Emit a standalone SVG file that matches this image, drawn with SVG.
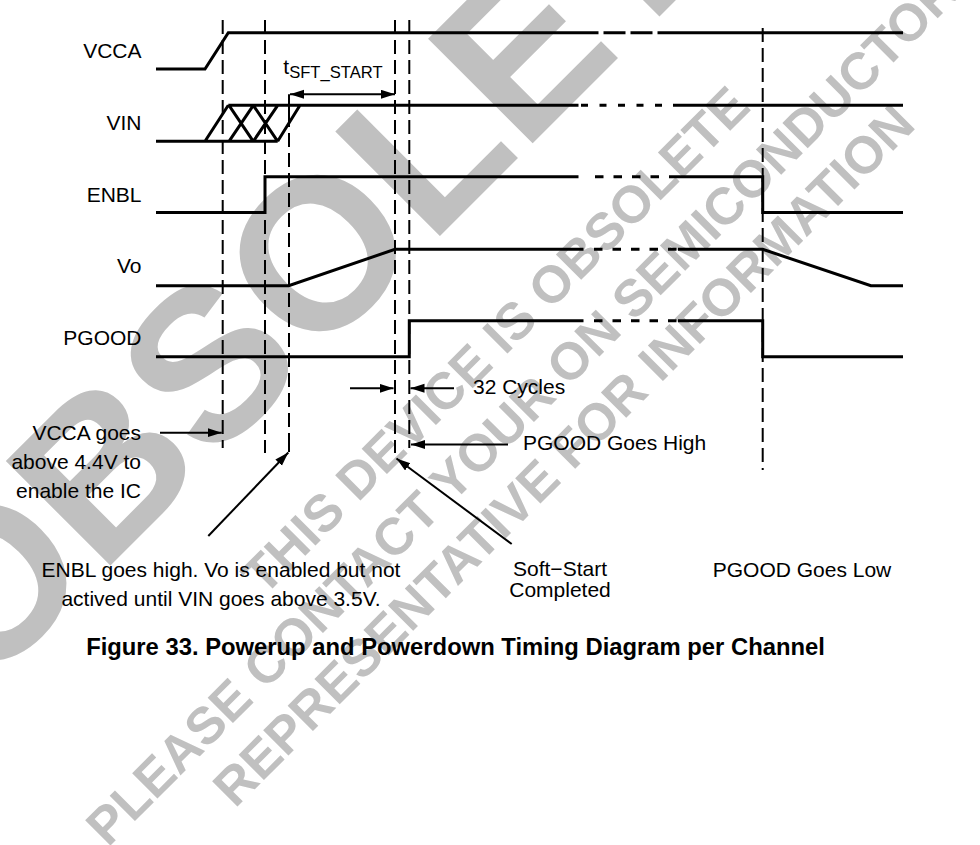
<svg xmlns="http://www.w3.org/2000/svg" width="980" height="845" viewBox="0 0 980 845">
<defs>
<marker id="ah" markerUnits="userSpaceOnUse" markerWidth="15" markerHeight="10" refX="14" refY="4.5" orient="auto-start-reverse"><path d="M0,0 L14,4.5 L0,9 z" fill="#000"/></marker>
<style>
.sig{fill:none;stroke:#000;stroke-width:3;stroke-linejoin:miter}
.brk{fill:none;stroke:#000;stroke-width:3;stroke-dasharray:8.5 10}
.vd{fill:none;stroke:#000;stroke-width:2;stroke-dasharray:14 6}
.arr{fill:none;stroke:#000;stroke-width:2}
.lbl{font-family:"Liberation Sans",Arial,Helvetica,sans-serif;font-size:21px;fill:#000}
.ttl{font-family:"Liberation Sans",Arial,Helvetica,sans-serif;font-size:23.8px;font-weight:bold;fill:#000}
.sub{font-size:16.6px}
.wm{font-family:"Liberation Sans",Arial,Helvetica,sans-serif;font-weight:bold;fill:#c0c0c0}
</style>
</defs>
<rect width="980" height="845" fill="#fff"/>
<g id="watermark">
<text class="wm" font-size="215" transform="translate(-18,694) rotate(-45)">OBSOLETE</text>
<text class="wm" font-size="52" transform="translate(264,597) rotate(-45)">THIS DEVICE IS OBSOLETE</text>
<text class="wm" font-size="52" transform="translate(108,848) rotate(-45)">PLEASE CONTACT YOUR ON SEMICONDUCTOR</text>
<text class="wm" font-size="52" transform="translate(235,809) rotate(-45)">REPRESENTATIVE FOR INFORMATION</text>
</g>
<g id="VCCA">
<text class="lbl" x="141.5" y="58.3" text-anchor="end">VCCA</text>
<path class="sig" d="M156,69 H205 L228.3,32.7 H598.5 M603.5,32.7 H625.5 M630.5,32.7 H652.5 M657.5,32.7 H903"/>
</g>
<g id="VIN">
<text class="lbl" x="141.5" y="130" text-anchor="end">VIN</text>
<path class="sig" d="M156,141.3 H277.7 M228.3,105.3 H578.5 M673,105.3 H903 M205,141.3 L228.3,105.3 M229,141.3 L253.3,105.3 M229,105.3 L253.3,141.3 M253.3,141.3 L277.7,105.3 M253.3,105.3 L277.7,141.3 M277.7,141.3 L300,105.3"/>
<path class="brk" d="M581,105.3 H668" style="stroke-dasharray:7 11.5"/>
</g>
<g id="ENBL">
<text class="lbl" x="141.5" y="201.7" text-anchor="end">ENBL</text>
<path class="sig" d="M156,212.5 H265 V176.7 H578.5 M669,176.7 H762.7 V212.5 H903"/>
<path class="brk" d="M595,176.7 H660"/>
</g>
<g id="Vo">
<text class="lbl" x="141.5" y="273.3" text-anchor="end">Vo</text>
<path class="sig" d="M156,285.7 H288.7 L395,249.3 H583.5 M678,249.3 H762.7 L870.9,285.7 H903"/>
<path class="brk" d="M594,249.3 H677"/>
</g>
<g id="PGOOD">
<text class="lbl" x="141.5" y="345" text-anchor="end">PGOOD</text>
<path class="sig" d="M156,356.7 H409.3 V320.7 H583.5 M678,320.7 H762.7 V356.7 H903"/>
<path class="brk" d="M594,320.7 H677"/>
</g>
<g id="connectors">
<path class="vd" d="M222.7,20 V448"/>
<path class="vd" d="M265,20 V453"/>
<path class="arr" d="M289,94.3 V113"/>
<path class="vd" d="M289,113 V440"/>
<path class="arr" d="M289,440 V452"/>
<path class="vd" d="M395,20 V453"/>
<path class="vd" d="M409.3,20 V448"/>
<path class="vd" d="M762.7,28 V470"/>
<path class="arr" d="M290,94.3 H395" marker-start="url(#ah)" marker-end="url(#ah)"/>
<path class="arr" d="M350,388.3 H393.5" marker-end="url(#ah)"/>
<path class="arr" d="M454,388.3 H410.5" marker-end="url(#ah)"/>
<path class="arr" d="M160,432.7 H221.7" marker-end="url(#ah)"/>
<path class="arr" d="M508,444.5 H411" marker-end="url(#ah)"/>
<path class="arr" d="M208.3,536 L288.3,452.5" marker-end="url(#ah)"/>
<path class="arr" d="M511.7,544 L396.5,458.5" marker-end="url(#ah)"/>
</g>
<g id="labels">
<text class="lbl" x="283.3" y="74">t<tspan class="sub" dy="4.3">SFT_START</tspan></text>
<text class="lbl" x="473" y="393.5">32 Cycles</text>
<text class="lbl" x="523" y="450">PGOOD Goes High</text>
<text class="lbl" x="141" y="439.5" text-anchor="end">VCCA goes</text>
<text class="lbl" x="141" y="469" text-anchor="end">above 4.4V to</text>
<text class="lbl" x="141" y="498" text-anchor="end">enable the IC</text>
<text class="lbl" x="221" y="577" text-anchor="middle">ENBL goes high. Vo is enabled but not</text>
<text class="lbl" x="221" y="606" text-anchor="middle">actived until VIN goes above 3.5V.</text>
<text class="lbl" x="560" y="576" text-anchor="middle">Soft−Start</text>
<text class="lbl" x="560" y="597" text-anchor="middle">Completed</text>
<text class="lbl" x="802" y="577" text-anchor="middle">PGOOD Goes Low</text>
<text class="ttl" x="455.5" y="655" text-anchor="middle">Figure 33. Powerup and Powerdown Timing Diagram per Channel</text>
</g>
</svg>
